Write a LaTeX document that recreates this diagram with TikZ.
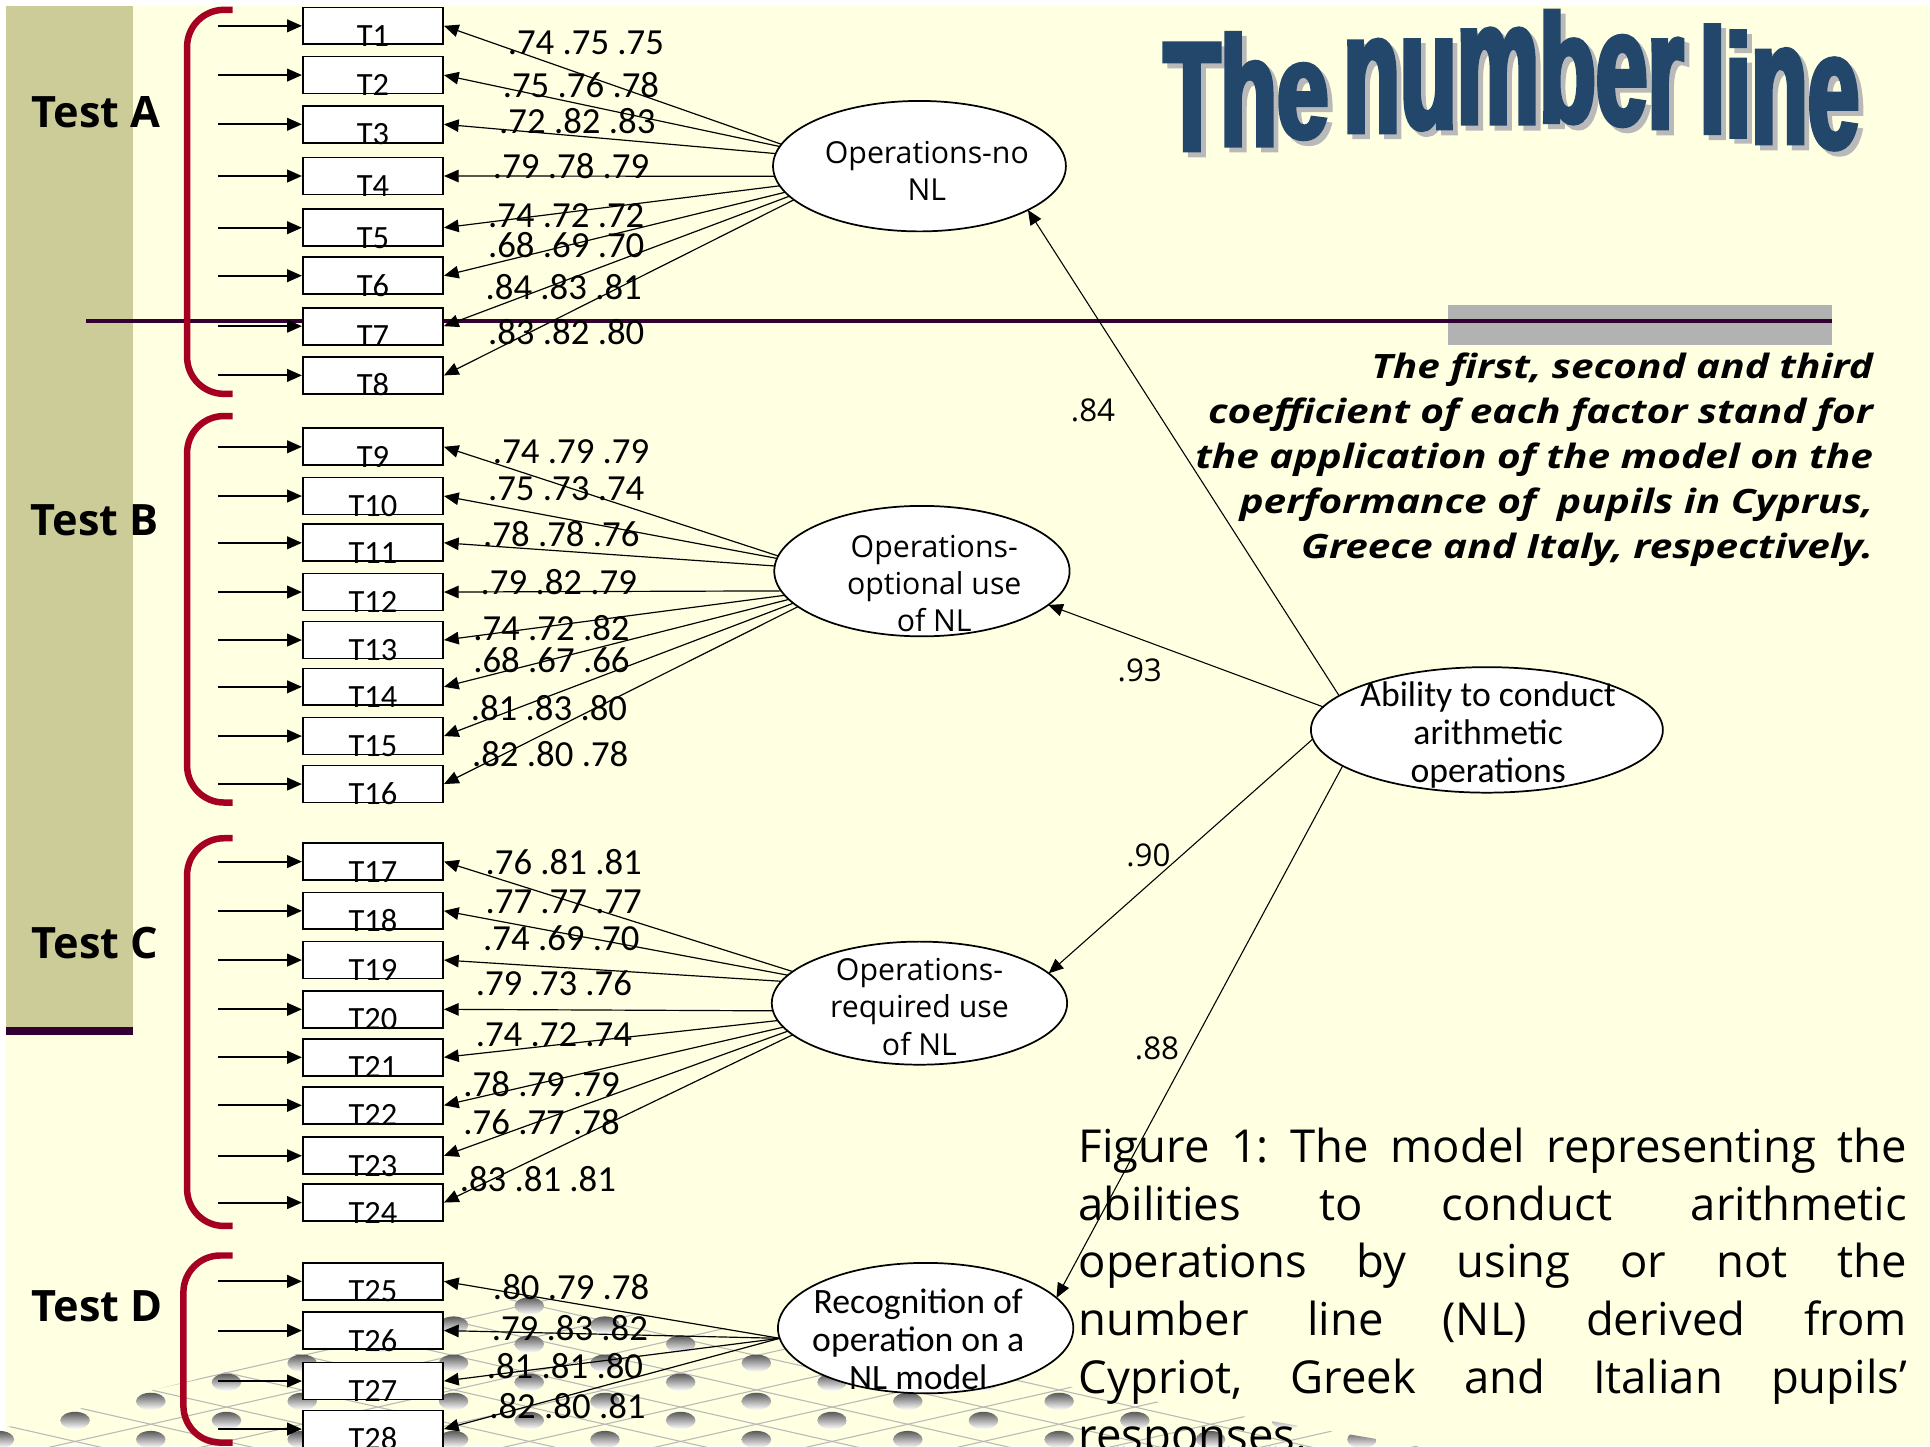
\documentclass[tikz,border=0pt]{standalone}
\usepackage{fontspec}
\setmainfont{Open Sans}
\newfontfamily\narrowfont{Carlito}
\newfontfamily\widefont[FakeStretch=1.21]{Open Sans}
\newfontfamily\titlefont[FakeStretch=0.6,FakeBold=3]{Liberation Sans}
\usepackage{graphicx}
\usetikzlibrary{shapes.geometric,arrows.meta}
\definecolor{nl_yellow}{RGB}{255,255,225}
\definecolor{nl_khaki}{RGB}{204,204,153}
\definecolor{nl_purple}{RGB}{51,0,51}
\definecolor{nl_red}{RGB}{165,0,33}
\definecolor{nl_blue}{RGB}{35,70,107}
\definecolor{nl_gray}{RGB}{178,178,178}
% one letter of the arched title: raise, vertical stretch, letter
\newcommand{\archletter}[3]{\raisebox{#1}{\scalebox{1}[#2]{#3}}}
\newcommand{\titleletters}{%
  \archletter{0cm}{1.00}{T}\archletter{0.08cm}{1.00}{h}\archletter{0.20cm}{0.89}{e}%
  \hspace{0.24cm}%
  \archletter{0.30cm}{1.10}{n}\archletter{0.36cm}{1.07}{u}\archletter{0.44cm}{1.13}{m}%
  \archletter{0.46cm}{0.99}{b}\archletter{0.42cm}{1.06}{e}\archletter{0.36cm}{1.07}{r}%
  \hspace{0.26cm}%
  \archletter{0.28cm}{0.96}{l}\archletter{0.22cm}{0.94}{i}\archletter{0.12cm}{1.12}{n}%
  \archletter{0.04cm}{1.07}{e}}
% title with its grey shadow behind it
\newcommand{\titleword}{%
  \rlap{\kern0.08cm\raisebox{-0.08cm}{\color{gray!55}\titleletters}}\titleletters}

\begin{document}
\begin{tikzpicture}[
  x=0.02cm,y=-0.02cm,
  tbox/.style={draw,fill=white,line width=0.8pt,minimum width=2.28cm,
               minimum height=0.6cm,inner sep=0pt},
  tlab/.style={anchor=base,inner sep=0pt,yshift=-0.02cm,
               font=\narrowfont\fontsize{15}{18}\selectfont},
  inarrow/.style={-{Triangle[length=6.8pt,width=5.8pt]},line width=0.9pt},
  loadline/.style={-{Triangle[length=6.8pt,width=5.8pt]},line width=0.55pt},
  loadval/.style={inner sep=0pt,font=\narrowfont\fontsize{17}{20}\selectfont},
  latent/.style={ellipse,draw,fill=white,line width=0.8pt,inner sep=0pt,outer sep=0pt},
  ftext/.style={align=center,inner sep=0pt,font=\fontsize{14}{17.2}\selectfont},
  ntext/.style={align=center,inner sep=0pt,font=\narrowfont\fontsize{16.5}{17.6}\selectfont},
  reg/.style={-{Triangle[length=6.8pt,width=5.8pt]},line width=0.5pt},
  coef/.style={inner sep=0pt,font=\fontsize{14.5}{17}\selectfont},
  brk/.style={draw=nl_red,line width=3pt,rounded corners=0.6cm},
  testlab/.style={inner sep=0pt,font=\bfseries\fontsize{20}{24}\selectfont},
  headline/.style={anchor=base west,inner sep=0pt,text=nl_blue,
                   font=\titlefont\bfseries\fontsize{71.5}{80}\selectfont},
  remark/.style={anchor=north east,align=right,inner sep=0pt,
                 font=\widefont\bfseries\itshape\fontsize{15.5}{20.8}\selectfont},
  figcap/.style={anchor=north west,text width=13.46cm,align=justify,inner sep=0pt,
                 font=\frenchspacing\fontsize{21}{26.7}\selectfont},
  gridln/.style={gray!55,line width=0.5pt},
  ball/.style={top color=black!65,bottom color=white}
]
\useasboundingbox (0,0) rectangle (1568,1175);
\clip (0,0) rectangle (1568,1175);

% slide background
\fill[white] (0,0) rectangle (1568,1175);
\fill[nl_yellow] (5,5) rectangle (1568,1175);
\fill[nl_khaki] (5,5) rectangle (108,834);
\fill[nl_purple] (5,834) rectangle (108,841);

% floor of balls
\begin{scope}
  \clip (430,1052) -- (-20,1166) -- (-20,1185) -- (1200,1185) -- (1200,1183) -- cycle;
  \foreach \m in {-20,-18,...,20}
    \draw[gridln] ({430+61.5*(\m-1)},1045.5) -- ({430+61.5*(\m+9)},1185);
  \foreach \m in {-10,-8,...,30}
    \draw[gridln] ({430+61.5*(\m+1)},1045.5) -- ({430+61.5*(\m-9)},1185);
  \foreach \k in {0,...,8}
    \foreach \m in {-8,...,12}{
      \pgfmathtruncatemacro{\odd}{mod(\m+\k+40,2)}
      \ifnum\odd=0
        \shade[ball] ({430+61.5*\m},{1061+15.5*\k}) ellipse [x radius=12,y radius=7];
      \fi
    }
\end{scope}

\fill[nl_gray] (1176,248) rectangle (1488,280);
\draw[nl_purple,line width=2pt] (70,261) -- (1488,261);

% title
\node[headline] (title) at (945,122) {\titleword};

% brackets and test names
\draw[brk] (189,8) -- (152,8) -- (152,320) -- (189,320);
\draw[brk] (189,338) -- (152,338) -- (152,652) -- (189,652);
\draw[brk] (189,681) -- (152,681) -- (152,996) -- (189,996);
\draw[brk] (189,1020) -- (149,1020) -- (149,1172) -- (189,1172);
\node[testlab] (testa) at (78,91) {Test A};
\node[testlab] (testb) at (77,423) {Test B};
\node[testlab] (testc) at (77,766) {Test C};
\node[testlab] (testd) at (79,1061) {Test D};

% factors
\node[latent,minimum width=4.76cm,minimum height=2.12cm] (f1) at (747,135) {};
\node[latent,minimum width=4.8cm,minimum height=2.12cm] (f2) at (749,464) {};
\node[latent,minimum width=4.8cm,minimum height=2.0cm] (f3) at (747,815) {};
\node[latent,minimum width=4.8cm,minimum height=2.12cm] (f4) at (752,1079) {};
\node[latent,minimum width=5.72cm,minimum height=2.04cm] (ab) at (1208,593) {};
\node[ftext] (f1t) at (753,139) {Operations-no\\NL};
\node[ftext] (f2t) at (759,474) {Operations-\\optional use\\of NL};
\node[ftext] (f3t) at (747,818) {Operations-\\required use\\of NL};
\node[ntext] (f4t) at (746,1088) {Recognition of\\operation on a\\NL model};
\node[ntext] (abt) at (1209,597) {Ability to conduct\\arithmetic\\operations};

% tests: number / box y / angle on factor / value position / values
\foreach \i/\y/\a/\lx/\ly/\v in {1/21/171/476/35/.74 .75 .75, 2/61/172/472/69/.75 .76 .78,
    3/101/175/469/98/.72 .82 .83, 4/143/184/464/135/.79 .78 .79,
    5/185/188/460/175/.74 .72 .72, 6/224/191/460/199/.68 .69 .70,
    7/265/193/458/233/.84 .83 .81, 8/305/195/460/270/.83 .82 .80}{
  \node[tbox] (T\i) at (303,\y) {};
  \node[tlab] (L\i) at (T\i.south) {T\i};
  \draw[inarrow] ([xshift=-1.36cm]T\i.west) -- (T\i.west);
  \draw[loadline] (f1.\a) -- (T\i.east);
  \node[loadval] (V\i) at (\lx,\ly) {\v};
}
\foreach \i/\y/\a/\lx/\ly/\v in {9/363/174/464/367/.74 .79 .79, 10/403/175/460/397/.75 .73 .74,
    11/441/178/456/434/.78 .78 .76, 12/481/188/454/473/.79 .82 .79,
    13/520/190/448/510/.74 .72 .82, 14/558/192/448/536/.68 .67 .66,
    15/598/194/446/575/.81 .83 .80, 16/637/196/447/613/.82 .80 .78}{
  \node[tbox] (T\i) at (303,\y) {};
  \node[tlab] (L\i) at (T\i.south) {T\i};
  \draw[inarrow] ([xshift=-1.36cm]T\i.west) -- (T\i.west);
  \draw[loadline] (f2.\a) -- (T\i.east);
  \node[loadval] (V\i) at (\lx,\ly) {\v};
}
\foreach \i/\y/\a/\lx/\ly/\v in {17/700/166/458/700/.76 .81 .81, 18/740/168/458/733/.77 .77 .77,
    19/780/171/456/762/.74 .69 .70, 20/820/183/450/799/.79 .73 .76,
    21/859/187/450/841/.74 .72 .74, 22/898/190/440/881/.78 .79 .79,
    23/939/192/440/912/.76 .77 .78, 24/977/194/437/958/.83 .81 .81}{
  \node[tbox] (T\i) at (303,\y) {};
  \node[tlab] (L\i) at (T\i.south) {T\i};
  \draw[inarrow] ([xshift=-1.36cm]T\i.west) -- (T\i.west);
  \draw[loadline] (f3.\a) -- (T\i.east);
  \node[loadval] (V\i) at (\lx,\ly) {\v};
}
\foreach \i/\y/\a/\lx/\ly/\v in {25/1041/184/464/1046/.80 .79 .78, 26/1081/184/463/1079/.79 .83 .82,
    27/1122/184/459/1110/.81 .81 .80, 28/1161/184/461/1142/.82 .80 .81}{
  \node[tbox] (T\i) at (303,\y) {};
  \node[tlab] (L\i) at (T\i.south) {T\i};
  \draw[inarrow] ([xshift=-1.36cm]T\i.west) -- (T\i.west);
  \draw[loadline] (f4.\a) -- (T\i.east);
  \node[loadval] (V\i) at (\lx,\ly) {\v};
}

% second order factor
\draw[reg] (ab.167) -- (f1.338);
\draw[reg] (ab.172) -- (f2.345);
\draw[reg] (ab.183) -- (f3.13);
\draw[reg] (ab.194) -- (f4.13);
\node[coef] (c1) at (888,333) {.84};
\node[coef] (c2) at (926,545) {.93};
\node[coef] (c3) at (933,695) {.90};
\node[coef] (c4) at (940,852) {.88};

% notes
\node[remark] (note) at (1522,286) {The first, second and third\\
  coefficient of each factor stand for\\
  the application of the model on the\\
  performance of~ pupils in Cyprus,\\
  Greece and Italy, respectively.};
\node[figcap] (caption) at (876,916) {Figure 1: The model representing the\linebreak
  abilities to conduct arithmetic\linebreak
  operations by using or not the\linebreak
  number line (NL) derived from\linebreak
  Cypriot, Greek and Italian pupils'\linebreak
  responses.};
\end{tikzpicture}
\end{document}
